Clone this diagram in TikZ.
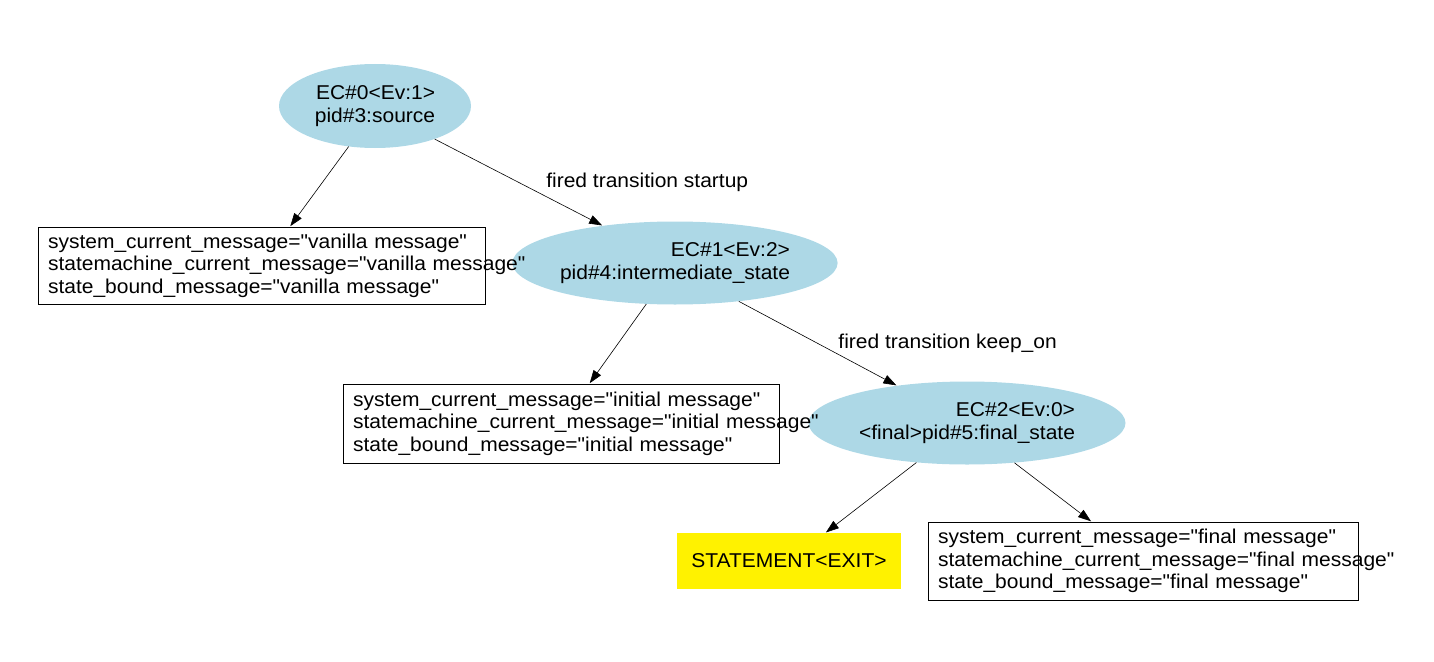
\documentclass[tikz,border=0pt]{standalone}
\usepackage{fontspec}
\setmainfont[FakeStretch=1.05, Ligatures=TeXOff]{Liberation Sans}
\usepackage{xcolor}
\usetikzlibrary{shapes.geometric,arrows.meta,positioning}
\definecolor{stateblue}{HTML}{ADD8E6}
\tikzset{>={Triangle[length=13pt,width=9pt]},
    state/.style={ellipse, fill=stateblue, inner sep=0pt, align=right},
    msgbox/.style={draw, line width=0.8pt, rectangle, inner xsep=10pt, inner ysep=0pt, align=left},
    exitbox/.style={fill=yellow, rectangle, inner sep=0pt},
    trans/.style={->, line width=0.6pt, shorten >=0.5pt}}
\begin{document}
\begin{tikzpicture}[x=1pt, y=-1pt, font=\fontsize{20}{22.5}\selectfont]
    \useasboundingbox (0,0) rectangle (1434,661);
    % states
    \node[state, minimum width=192, minimum height=84] (src) at (375,106) {EC\#0<Ev:1>\\pid\#3:source};
    \node[state, minimum width=324, minimum height=83] (mid) at (675,263) {EC\#1<Ev:2>\\pid\#4:intermediate\_state};
    \node[state, minimum width=317, minimum height=83] (fin) at (967,423) {EC\#2<Ev:0>\\<final>pid\#5:final\_state};
    % message boxes
    \node[msgbox, text width=427, minimum height=77] (vanilla) at (261.5,265.5)
      {\mbox{system\_current\_message="vanilla message"}\\
       \mbox{statemachine\_current\_message="vanilla message"}\\
       \mbox{state\_bound\_message="vanilla message"}};
    \node[msgbox, text width=416, minimum height=79] (initial) at (561,423.5)
      {\mbox{system\_current\_message="initial message"}\\
       \mbox{statemachine\_current\_message="initial message"}\\
       \mbox{state\_bound\_message="initial message"}};
    \node[msgbox, text width=410, minimum height=78] (final) at (1143,561)
      {\mbox{system\_current\_message="final message"}\\
       \mbox{statemachine\_current\_message="final message"}\\
       \mbox{state\_bound\_message="final message"}};
    \node[exitbox, minimum width=224, minimum height=56] (exit) at (789,561) {STATEMENT<EXIT>};
    % transitions
    \draw[trans] (src.237) -- (vanilla);
    \draw[trans] (src.331) -- (mid) node[midway, right=24pt] (startup) {fired transition startup};
    \draw[trans] (mid.235) -- (initial);
    \draw[trans] (mid.329) -- (fin) node[midway, right=17pt] (keepon) {fired transition keep\_on};
    \draw[trans] (fin.218) -- (exit);
    \draw[trans] (fin.320) -- (final);
\end{tikzpicture}
\end{document}
